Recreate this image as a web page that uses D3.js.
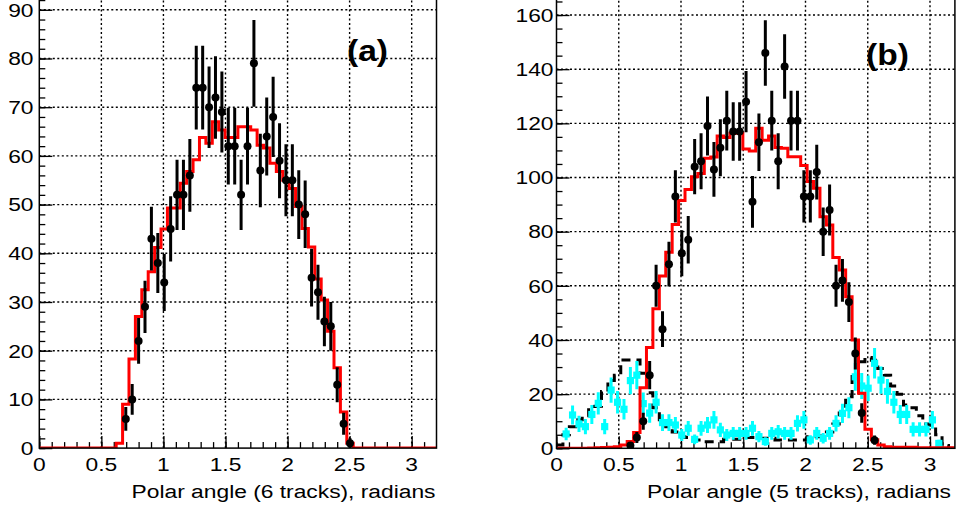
<!DOCTYPE html>
<html><head><meta charset="utf-8">
<script src="https://cdn.jsdelivr.net/npm/d3@7"></script>
<style>
body{margin:0;background:#fff}
svg{display:block}
text{font-family:"Liberation Sans",Arial,Helvetica,sans-serif;fill:#000}
</style>
</head><body>
<svg id="chart" width="956" height="510"></svg>
<script>
// ---------------- data ----------------
const NBINS = 62;           // histogram bins over [XMIN, XMAX]
const XMIN = 0, XMAX = 3.2;
const xTicks = [0, 0.5, 1, 1.5, 2, 2.5, 3];
const xTickLabels = ["0", "0.5", "1", "1.5", "2", "2.5", "3"];
const yTicksA = [0, 10, 20, 30, 40, 50, 60, 70, 80, 90];
const yTicksB = [0, 20, 40, 60, 80, 100, 120, 140, 160];

// Panel (a): 6 tracks
const dataAStart = 13;   // first bin index of the data points
const dataA = [6,10,22,29,43,38,34,45,52,52,56,74,74,70,72,69,62,62,52,62,79,57,64,68,59,55,55,50,48,35,32,26,25,13,5,1];
const mcAStart = 12;     // first non-empty bin of the red histogram
const mcA = [1,9,18.3,27,32.5,36.2,41.2,45,49.3,49.3,54.4,56.8,59.2,63.8,62.6,67,65.3,63.8,63.8,66,66,65.3,62.2,61.6,58.5,56.8,55,53.3,49.6,45.1,41.3,34.7,30.4,24,16.5,7.4,1];

// Panel (b): 5 tracks
const dataBStart = 11;
const dataB = [1,4,10,27,60,44,68,93,72,77,104,106,119,103,111,121,117,117,128,91,113,146,121,106,141,121,121,93,93,102,80,88,60,62,54,35,13,null,3];
const mcB = [0,0,0,0,0,0.1,0.2,0.3,0.4,0.6,1.2,2.5,5.8,22.4,37.2,51.5,63.6,72.4,82.6,91.5,95.6,100.3,101.5,107.1,107.6,115.3,114.8,116.3,116.3,110.5,109.8,118.2,113.8,115.3,111.1,110.8,107.7,107.7,104.4,98.5,96,85.5,82.5,70.5,65.8,56,40,20.3,7,3.2,1.2,0.6,0.4,0.4,0.4,0.4,0.2,0.2,0.2,0.2,0.2,0.2];
const bgB = [1.2,5,8,10.5,12,15.4,15.5,21,25,27,32.6,32.6,32.6,27.7,20.5,15,9.5,8,6,4.3,4,3.1,3.1,2.4,2.4,2.4,3.3,3.3,3.3,4,4,3.7,3.7,3.7,3.1,3.1,3.1,3.1,3.1,4.3,4.3,4.5,6,9,13,19,27.5,32,33.5,32.5,29.5,27,23,20,16,15,12,9,8.5,5,1,0];
const cyanBStart = 1;
const cyanB = [5.3,12.3,9,8,12.5,16.6,8,21.5,17,14.4,25,27,16.5,13,17,9.5,9.5,8.6,4.9,7.4,3.3,7.4,8.6,10.5,6.8,4.9,5.5,5.5,5.5,7.4,4.3,2.5,5.5,6.1,5.5,5.5,9.2,10.5,3.1,5.5,3.7,5.5,9.2,12.9,15,26.4,23,22.2,31.4,25.2,21,17,12.5,12.5,7,7,7,10.5,1.8];

const titleA = "Polar angle (6 tracks), radians";
const titleB = "Polar angle (5 tracks), radians";

// ---------------- helpers ----------------
const svg = d3.select("#chart");
const binW = (XMAX - XMIN) / NBINS;
const center = i => XMIN + (i + 0.5) * binW;
const edge = i => XMIN + i * binW;

function fullBins(start, arr) {
  const out = new Array(NBINS).fill(0);
  arr.forEach((v, k) => { out[start + k] = v; });
  return out;
}

const SX = 1.2;  // horizontal stretch of the reference's lettering
const FS = 19;

function drawPanel(cfg) {
  const x = d3.scaleLinear().domain([XMIN, XMAX]).range([cfg.left, cfg.right]);
  const y = d3.scaleLinear().domain([0, cfg.yMax]).range([cfg.bottom, cfg.bottom - cfg.yMax * cfg.pxPerUnit]);
  const top = y(cfg.yMax);
  const g = svg.append("g");
  const clipId = "clip" + cfg.id;
  svg.append("clipPath").attr("id", clipId).append("rect")
    .attr("x", cfg.left).attr("y", top).attr("width", cfg.right - cfg.left).attr("height", cfg.bottom - top);

  // grid
  const grid = g.append("g").attr("stroke", "#000").attr("stroke-width", 1.4).attr("stroke-dasharray", "2,2.5");
  xTicks.forEach(t => { if (t > XMIN) grid.append("line").attr("x1", x(t)).attr("x2", x(t)).attr("y1", cfg.bottom).attr("y2", top); });
  cfg.yTicks.forEach(t => { if (t > 0) grid.append("line").attr("x1", cfg.left).attr("x2", cfg.right).attr("y1", y(t)).attr("y2", y(t)); });

  // axes ticks (inside)
  const ax = g.append("g").attr("transform", `translate(0,${cfg.bottom})`)
    .call(d3.axisBottom(x).tickValues(xTicks).tickSize(-12).tickFormat(""));
  const axm = g.append("g").attr("transform", `translate(0,${cfg.bottom})`)
    .call(d3.axisBottom(x).tickValues(d3.range(0, 32).map(k => k / 10)).tickSize(-6).tickFormat(""));
  const ay = g.append("g").attr("transform", `translate(${cfg.left},0)`)
    .call(d3.axisLeft(y).tickValues(cfg.yTicks).tickSize(-13).tickFormat(""));
  const aym = g.append("g").attr("transform", `translate(${cfg.left},0)`)
    .call(d3.axisLeft(y).tickValues(d3.range(0, cfg.yMax, cfg.yMinor)).tickSize(-6).tickFormat(""));
  [ax, axm, ay, aym].forEach(a => { a.selectAll(".domain").remove(); a.selectAll("line").attr("stroke", "#000").attr("stroke-width", 1.3); });

  // marks
  const m = g.append("g").attr("clip-path", `url(#${clipId})`);
  const stepLine = d3.line().x(d => x(d[0])).y(d => y(d[1])).curve(d3.curveStepAfter);
  function histPts(vals) {
    const p = vals.map((v, i) => [edge(i), v]);
    p.push([XMAX, vals[vals.length - 1]]);
    return p;
  }
  if (cfg.bg) {
    m.append("path").attr("d", stepLine(histPts(cfg.bg))).attr("fill", "none")
      .attr("stroke", "#000").attr("stroke-width", 3).attr("stroke-dasharray", "9,6");
  }
  if (cfg.cyan) {
    const cg = m.append("g");
    cfg.cyan.forEach((v, k) => {
      const i = cfg.cyanStart + k, cx = x(center(i)), e = Math.sqrt(v);
      cg.append("line").attr("x1", cx).attr("x2", cx).attr("y1", y(v + e)).attr("y2", y(Math.max(0, v - e)))
        .attr("stroke", "#00ffff").attr("stroke-width", 3);
      cg.append("rect").attr("x", cx - 3.6).attr("y", y(v) - 3.6).attr("width", 7.2).attr("height", 7.2).attr("fill", "#00ffff");
    });
  }
  m.append("path").attr("d", stepLine(histPts(cfg.mc))).attr("fill", "none")
    .attr("stroke", "#ff0000").attr("stroke-width", 3);
  const pg = m.append("g");
  cfg.data.forEach((v, k) => {
    if (v === null) return;
    const i = cfg.dataStart + k, cx = x(center(i)), e = Math.sqrt(v);
    pg.append("line").attr("x1", cx).attr("x2", cx).attr("y1", y(v + e)).attr("y2", y(Math.max(0, v - e)))
      .attr("stroke", "#000").attr("stroke-width", 3);
    pg.append("circle").attr("cx", cx).attr("cy", y(v)).attr("r", 4).attr("fill", "#000");
  });

  // frame
  g.append("rect").attr("x", cfg.left).attr("y", top).attr("width", cfg.right - cfg.left).attr("height", cfg.bottom - top)
    .attr("fill", "none").attr("stroke", "#000").attr("stroke-width", 1.5);

  // tick labels
  xTicks.forEach((t, k) => {
    g.append("text").attr("transform", `translate(${x(t)},${cfg.bottom + 23}) scale(${SX},1)`)
      .attr("text-anchor", "middle").attr("font-size", FS).text(xTickLabels[k]);
  });
  cfg.yTicks.forEach(t => {
    g.append("text").attr("transform", `translate(${cfg.labelRight},${y(t) + 6.8}) scale(${SX},1)`)
      .attr("text-anchor", "end").attr("font-size", FS).text(String(t));
  });
  g.append("text").attr("transform", `translate(${cfg.titleRight},498) scale(${SX},1)`)
    .attr("text-anchor", "end").attr("font-size", FS).text(cfg.title);
  g.append("text").attr("transform", `translate(${cfg.tagX},${cfg.tagY}) scale(1.12,1)`)
    .attr("font-size", 30).attr("font-weight", "bold").text(cfg.tag);
}

drawPanel({
  id: "a", left: 39.3, right: 436.5, bottom: 448.1, yMax: 92.4, pxPerUnit: 4.87,
  yTicks: yTicksA, yMinor: 2, labelRight: 33.5, titleRight: 435.5,
  data: dataA, dataStart: dataAStart, mc: fullBins(mcAStart, mcA),
  tag: "(a)", tagX: 347, tagY: 61, title: titleA
});
drawPanel({
  id: "b", left: 556.5, right: 954.9, bottom: 448.3, yMax: 166, pxPerUnit: 2.708,
  yTicks: yTicksB, yMinor: 5, labelRight: 553.5, titleRight: 951,
  data: dataB, dataStart: dataBStart, mc: mcB, bg: bgB, cyan: cyanB, cyanStart: cyanBStart,
  tag: "(b)", tagX: 866, tagY: 65, title: titleB
});
</script>
</body></html>
